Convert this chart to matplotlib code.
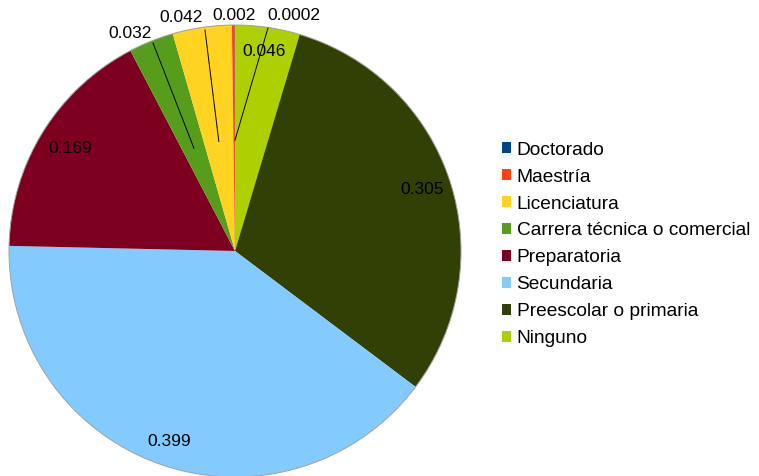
import numpy as np
import matplotlib.pyplot as plt

plt.rcParams['font.family'] = ['Liberation Sans', 'DejaVu Sans']

# slices, clockwise from 12 o'clock
categories = ['Ninguno', 'Preescolar o primaria', 'Secundaria', 'Preparatoria',
              'Carrera técnica o comercial', 'Licenciatura', 'Maestría', 'Doctorado']
values = [0.046, 0.305, 0.399, 0.169, 0.032, 0.042, 0.002, 0.0002]
value_labels = ['0.046', '0.305', '0.399', '0.169', '0.032', '0.042', '0.002', '0.0002']
colors = ['#aecf00', '#314004', '#83caff', '#7e0021',
          '#579d1c', '#ffd320', '#ff420e', '#004586']

W, H = 759, 476
fig = plt.figure(figsize=(W / 100, H / 100), dpi=100)
ax = fig.add_axes([0, 0, 1, 1])

cx, cy, R = 235, H - 251, 226
wedges, _ = ax.pie(values, colors=colors, startangle=90, counterclock=False,
                   center=(cx, cy), radius=R, frame=True,
                   wedgeprops=dict(linewidth=0))
ax.add_patch(plt.Circle((cx, cy), R, fill=False, edgecolor='#a0a0a0', lw=0.7))
ax.set_xlim(0, W)
ax.set_ylim(0, H)
ax.set_aspect('equal')
ax.axis('off')

# label placement: inside (radius fraction) or outside (text pos, line end)
inside_r = {0: 0.89, 1: 0.87, 2: 0.89, 3: 0.86}
outside = {
    4: ((130, 33), (153, 43)),
    5: ((181, 18), (205, 30)),
    6: ((234, 16), None),
    7: ((294, 16), (268, 28)),
}

for i, w in enumerate(wedges):
    mid = np.deg2rad((w.theta1 + w.theta2) / 2)
    if i in inside_r:
        r = inside_r[i] * R
        ax.text(cx + r * np.cos(mid), cy + r * np.sin(mid), value_labels[i],
                ha='center', va='center', fontsize=12.5, color='black')
    else:
        (tx, ty), end = outside[i]
        ax.text(tx, H - ty, value_labels[i], ha='center', va='center',
                fontsize=12.5, color='black')
        if end is not None:
            r = 0.49 * R
            ax.plot([cx + r * np.cos(mid), end[0]], [cy + r * np.sin(mid), H - end[1]],
                    color='black', lw=0.7)

order = list(range(len(categories)))[::-1]
leg = fig.legend([wedges[i] for i in order], [categories[i] for i in order],
                 loc='upper left', bbox_to_anchor=(492 / W, 1 - 132 / H),
                 frameon=False, fontsize=13.8, handlelength=0.5, handleheight=0.5,
                 handletextpad=0.28, labelspacing=0.52, borderpad=0)

fig.savefig('out.png', dpi=100)
